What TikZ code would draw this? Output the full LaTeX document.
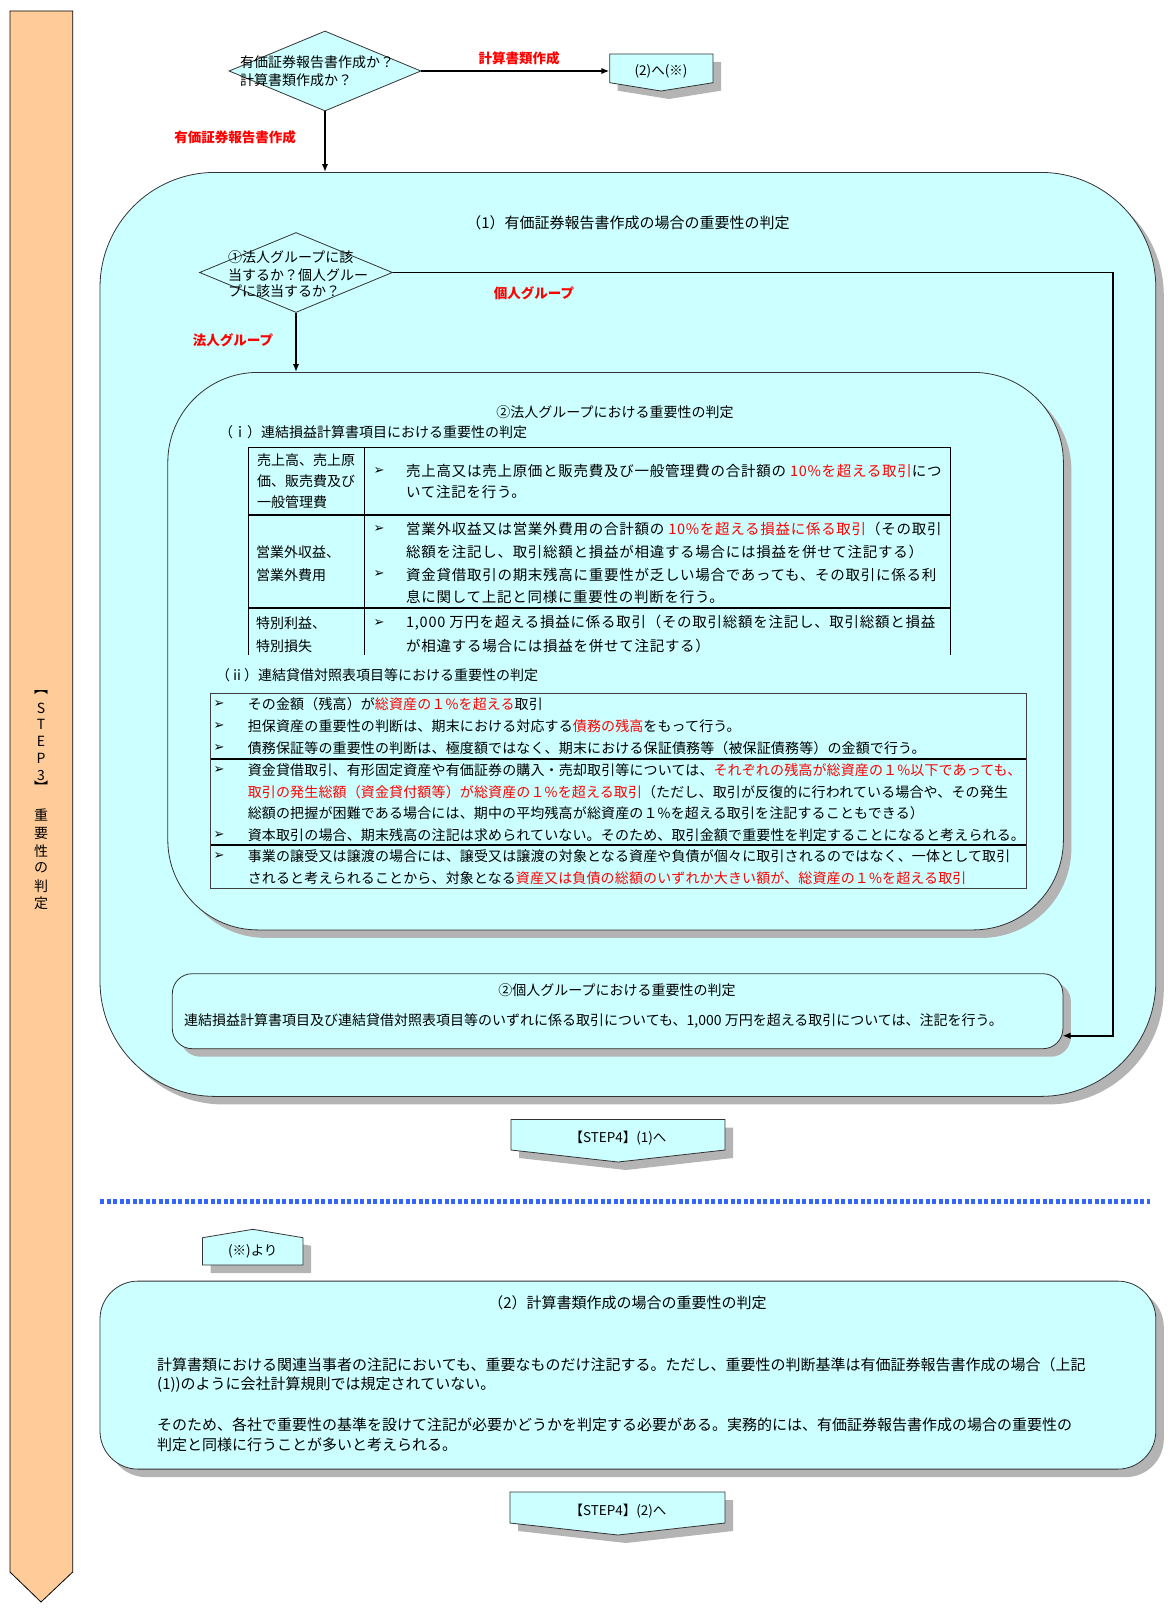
\documentclass[tikz,border=0pt]{standalone}
\usepackage{fontspec}
\setmainfont{Noto Sans CJK JP}
\newfontfamily\dvs{DejaVu Sans}
\usetikzlibrary{shapes.geometric,arrows.meta,shadows}
\definecolor{cy}{HTML}{CCFFFF}
\definecolor{orng}{HTML}{FFCC99}
\definecolor{shd}{HTML}{B4B4B4}
\definecolor{rd}{HTML}{FF0000}
\definecolor{dotb}{HTML}{3366FF}
\newcommand\fz[1]{\fontsize{#1pt}{#1pt}\selectfont}
\newcommand\rt[1]{\textcolor{rd}{#1}}
\newcommand\bul{{\dvs\fontsize{13pt}{13pt}\selectfont ➢}}
\begin{document}
\begin{tikzpicture}[x=1pt,y=-1pt,
  tx/.style={inner sep=0pt, anchor=west, font=\fz{14}},
  ctx/.style={inner sep=0pt, font=\fz{14}},
  wide/.style={font=\fz{14.5}\addfontfeature{LetterSpace=5}},
  wtwo/.style={font=\fz{14}\addfontfeature{LetterSpace=1}},
  lab/.style={inner sep=0pt, text=rd, font=\fz{13.5}\bfseries},
  bl/.style={inner sep=0pt},
  arr/.style={line width=1.6pt, -{Latex[length=8pt,width=6.5pt]}},
  shapeA/.style={draw=black!80, line width=0.8pt, fill=cy},
  shdw/.style={drop shadow={shadow xshift=8pt, shadow yshift=-8pt, fill=shd, opacity=1}},
  tl/.style={line width=0.8pt},
  tk/.style={line width=2pt}]
\useasboundingbox (0,0) rectangle (1174,1611);

% left orange arrow
\draw[fill=orng, line width=0.8pt] (10,11) -- (72.7,11) -- (72.7,1572) -- (41,1602) -- (10,1572) -- cycle;
\foreach \ch/\yy [count=\i] in {︻/693, S/708, T/724, E/741, P/758, 3/775, ︼/787, 重/815, 要/833, 性/851, の/868, 判/886, 定/903}
  \node[ctx] (v\i) at (41,\yy) {\ch};

% top decision
\node[diamond, shapeA, minimum width=192pt, minimum height=80pt, inner sep=0pt] (d1) at (325,71) {};
\node[tx] (d1a) at (240,62.5) {有価証券報告書作成か？};
\node[tx] (d1b) at (240,80) {計算書類作成か？};

\fill[shd] (617.7,62) -- (721,62) -- (721,90.7) -- (669,99) -- (617.7,90.7) -- cycle;
\draw[shapeA] (609.7,54) -- (713,54) -- (713,82.7) -- (661,91) -- (609.7,82.7) -- cycle;
\node[ctx, font=\fz{13.5}, minimum width=103pt, minimum height=26pt] (b2) at (661,71) {(2)へ(※)};
\draw[arr] (d1.east) -- (d1.east -| b2.west);
\node[lab] (l1) at (519,58) {計算書類作成};

% outer rect (1)
\node[shapeA, shdw, rounded corners=115pt, minimum width=1055.8pt, minimum height=924pt, anchor=north west, inner sep=0pt] (r1) at (99.6,172) {};
\draw[arr] (d1.south) -- (d1.south |- r1.north);
\node[lab] (l2) at (235,137) {有価証券報告書作成};
\node[ctx, font=\fz{15}] (t1) at (628,223) {（1）有価証券報告書作成の場合の重要性の判定};

% inner rect (corporate)
\node[shapeA, shdw, rounded corners=90pt, minimum width=895.6pt, minimum height=557.5pt, anchor=north west, inner sep=0pt] (r2) at (167.4,372) {};

% decision 2
\node[diamond, shapeA, minimum width=193pt, minimum height=80pt, inner sep=0pt] (d2) at (296,272.5) {};
\node[tx] (d2a) at (228,257.5) {①法人グループに該};
\node[tx] (d2b) at (228,275) {当するか？個人グルー};
\node[tx] (d2c) at (228,291) {プに該当するか？};
\node[lab] (l3) at (534,293) {個人グループ};
\node[lab] (l4) at (233,340) {法人グループ};
\draw[arr] (d2.south) -- (d2.south |- r2.north);

% individual box
\node[shapeA, shdw, rounded corners=20pt, minimum width=890.6pt, minimum height=75pt, anchor=north west, inner sep=0pt] (kb) at (171.9,973.3) {};
\coordinate (kin) at (1062.5,1035.7);
\coordinate (kr) at (1113,272.5);
\draw[arr] (d2.east) -- (kr) -- (kr |- kin) -- (kin);
\node[ctx] (kt) at (617,990) {②個人グループにおける重要性の判定};
\node[tx] (kx) at (184,1021) {連結損益計算書項目及び連結貸借対照表項目等のいずれに係る取引についても、1,000 万円を超える取引については、注記を行う。};

% corporate titles
\node[ctx] (t2) at (615,412) {②法人グループにおける重要性の判定};
\node[tx] (t2i) at (219,432) {（ｉ）連結損益計算書項目における重要性の判定};

% table 1
\draw[tl] (248.5,447.3) -- (950,447.3);
\draw[tk] (248.5,515) -- (950,515);
\draw[tk] (248.5,608) -- (950,608);
\draw[tl] (248.5,447.3) -- (248.5,655) (364.8,447.3) -- (364.8,655) (950,447.3) -- (950,655);

\node[tx] (a1) at (257,460) {売上高、売上原};
\node[tx] (a2) at (257,481) {価、販売費及び};
\node[tx] (a3) at (257,502) {一般管理費};
\node[bl] (ab1) at (379,471) {\bul};
\node[tx, wide] (ax1) at (406,471) {売上高又は売上原価と販売費及び一般管理費の合計額の \rt{10\%を超える取引}につ};
\node[tx, wide] (ax2) at (406,492) {いて注記を行う。};

\node[tx] (b1) at (256,552) {営業外収益、};
\node[tx] (b3) at (256,575) {営業外費用};
\node[bl] (bb1) at (379,529) {\bul};
\node[bl] (bb2) at (379,574.5) {\bul};
\node[tx, wide] (bx1) at (406,529) {営業外収益又は営業外費用の合計額の \rt{10\%を超える損益に係る取引}（その取引};
\node[tx, wide] (bx2) at (406,552) {総額を注記し、取引総額と損益が相違する場合には損益を併せて注記する）};
\node[tx, wide] (bx3) at (406,574.5) {資金貸借取引の期末残高に重要性が乏しい場合であっても、その取引に係る利};
\node[tx, wide] (bx4) at (406,597) {息に関して上記と同様に重要性の判断を行う。};

\node[tx] (c1) at (256,623) {特別利益、};
\node[tx] (c2) at (256,646) {特別損失};
\node[bl] (cb1) at (379,623) {\bul};
\node[tx, wide] (cx1) at (406,623) {1,000 万円を超える損益に係る取引（その取引総額を注記し、取引総額と損益};
\node[tx, wide] (cx2) at (406,646) {が相違する場合には損益を併せて注記する）};

% table 2
\node[tx] (t2ii) at (216,675) {（ⅱ）連結貸借対照表項目等における重要性の判定};
\draw[tl, draw=black!75] (210.6,693.3) rectangle (1026,888);
\draw[tk] (210.6,758.5) -- (1026,758.5);
\draw[tk] (210.6,845) -- (1026,845);

\node[bl] (eb1) at (219,704.5) {\bul};
\node[bl] (eb2) at (219,726.5) {\bul};
\node[bl] (eb3) at (219,748) {\bul};
\node[tx, wtwo] (ex1) at (247.6,704.5) {その金額（残高）が\rt{総資産の１\%を超える}取引};
\node[tx, wtwo] (ex2) at (247.6,726.5) {担保資産の重要性の判断は、期末における対応する\rt{債務の残高}をもって行う。};
\node[tx, wtwo] (ex3) at (247.6,748) {債務保証等の重要性の判断は、極度額ではなく、期末における保証債務等（被保証債務等）の金額で行う。};

\node[bl] (fb1) at (219,770) {\bul};
\node[bl] (fb2) at (219,835) {\bul};
\node[tx, wtwo] (fx1) at (247.6,770) {資金貸借取引、有形固定資産や有価証券の購入・売却取引等については、\rt{それぞれの残高が総資産の１\%以下であっても、}};
\node[tx, wtwo] (fx2) at (247.6,792) {\rt{取引の発生総額（資金貸付額等）が総資産の１\%を超える取引}（ただし、取引が反復的に行われている場合や、その発生};
\node[tx, wtwo] (fx3) at (247.6,813) {総額の把握が困難である場合には、期中の平均残高が総資産の１\%を超える取引を注記することもできる）};
\node[tx, wtwo] (fx4) at (247.6,835) {資本取引の場合、期末残高の注記は求められていない。そのため、取引金額で重要性を判定することになると考えられる。};

\node[bl] (gb1) at (219,856.5) {\bul};
\node[tx, wtwo] (gx1) at (247.6,856.5) {事業の譲受又は譲渡の場合には、譲受又は譲渡の対象となる資産や負債が個々に取引されるのではなく、一体として取引};
\node[tx, wtwo] (gx2) at (247.6,878) {されると考えられることから、対象となる\rt{資産又は負債の総額のいずれか大きい額が、総資産の１\%を超える取引}};

% STEP4 (1)
\fill[shd] (519,1127.5) -- (733,1127.5) -- (733,1158) -- (626,1170) -- (519,1158) -- cycle;
\draw[shapeA] (511,1119.5) -- (725,1119.5) -- (725,1150) -- (618,1162) -- (511,1150) -- cycle;
\node[ctx, font=\fz{13.5}] (s1) at (618,1138) {【STEP4】(1)へ};

% separator
\draw[dotb, line width=4.5pt, dash pattern=on 4pt off 2.5pt] (100,1201.7) -- (1150,1201.7);

% from (※)
\fill[shd] (210.5,1273) -- (210.5,1245.7) -- (260.8,1237.3) -- (311,1245.7) -- (311,1273) -- cycle;
\draw[shapeA] (202.5,1265) -- (202.5,1237.7) -- (252.8,1229.3) -- (303,1237.7) -- (303,1265) -- cycle;
\node[ctx, font=\fz{13.5}] (fr) at (252.8,1251) {(※)より};

% bottom rect (2)
\node[shapeA, shdw, rounded corners=38pt, minimum width=1055.8pt, minimum height=188pt, anchor=north west, inner sep=0pt] (r3) at (99.6,1280.7) {};
\node[ctx, font=\fz{15}] (t3) at (627.5,1302.5) {（2）計算書類作成の場合の重要性の判定};
\node[tx, font=\fz{15}] (p1) at (157,1365) {計算書類における関連当事者の注記においても、重要なものだけ注記する。ただし、重要性の判断基準は有価証券報告書作成の場合（上記};
\node[tx, font=\fz{15}] (p2) at (157,1385) {(1))のように会社計算規則では規定されていない。};
\node[tx, font=\fz{15}] (p3) at (157,1425) {そのため、各社で重要性の基準を設けて注記が必要かどうかを判定する必要がある。実務的には、有価証券報告書作成の場合の重要性の};
\node[tx, font=\fz{15}] (p4) at (157,1445) {判定と同様に行うことが多いと考えられる。};

% STEP4 (2)
\fill[shd] (518,1500) -- (733,1500) -- (733,1531) -- (626,1543) -- (518,1531) -- cycle;
\draw[shapeA] (510,1492) -- (725,1492) -- (725,1523) -- (618,1535) -- (510,1523) -- cycle;
\node[ctx, font=\fz{13.5}] (s2) at (618,1511) {【STEP4】(2)へ};
\end{tikzpicture}
\end{document}
